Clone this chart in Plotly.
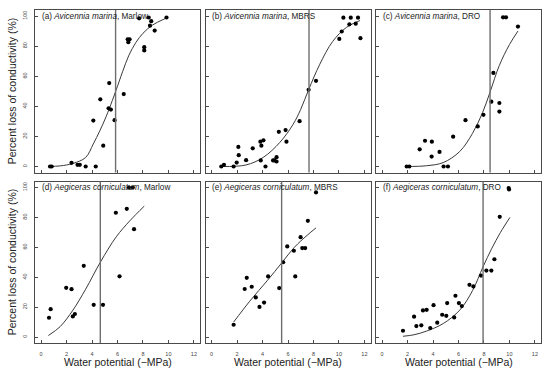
import plotly.graph_objects as go

# ---------------- data ----------------
panel_letters = ["(a)", "(b)", "(c)", "(d)", "(e)", "(f)"]
species = ["Avicennia marina", "Avicennia marina", "Avicennia marina",
           "Aegiceras corniculatum", "Aegiceras corniculatum", "Aegiceras corniculatum"]
sites = ["Marlow", "MBRS", "DRO", "Marlow", "MBRS", "DRO"]

x_ticks = [0, 2, 4, 6, 8, 10, 12]
y_ticks = [0, 20, 40, 60, 80, 100]

p50 = [5.85, 7.65, 8.48, 4.65, 5.5, 7.93]

a_x = [0.70, 0.83, 2.39, 2.86, 3.04, 3.50, 4.10, 4.29, 4.65, 4.88, 5.30, 5.48, 5.35, 5.77,
       6.49, 6.80, 6.95, 6.85, 7.70, 8.10, 8.10, 8.45, 8.55, 8.65, 8.92, 9.85]
a_y = [0, 0, 2.4, 1.1, 1.1, 0, 30.5, 0, 44.6, 13.8, 38.7, 37.8, 55.4, 30.8,
       48.1, 84.5, 84.5, 82.6, 98.5, 79.3, 77.1, 99, 93.6, 96.6, 90.3, 99]

b_x = [0.76, 0.97, 1.73, 1.97, 2.10, 2.13, 2.71, 3.23, 3.83, 3.91, 4.07, 3.86, 4.23, 4.83,
       4.94, 5.10, 5.10, 5.28, 5.81, 5.88, 6.91, 7.62, 8.20, 10.03, 10.22, 10.35, 10.82,
       10.93, 11.32, 11.50, 11.69]
b_y = [0, 1.1, 0, 2.6, 13, 7.5, 4.2, 12.1, 16.5, 13.8, 17.4, 4, 0, 4,
       4, 6.2, 3.3, 23, 24.2, 16.5, 30.1, 51, 56.9, 84.8, 89.7, 98.9, 94.5,
       98.9, 94.9, 98.9, 85.3]

c_x = [1.93, 2.14, 2.95, 3.37, 3.91, 3.89, 4.51, 4.83, 5.17, 5.58, 6.55, 7.51, 7.96, 8.58,
       8.74, 9.21, 9.21, 9.50, 9.73, 10.67]
c_y = [0, 0, 11.4, 17.1, 16.5, 6.6, 9.7, 0, 0, 19.8, 30.8, 26.6, 34.3, 43.1,
       62.2, 42.2, 36.5, 99.1, 99.1, 93]

d_x = [0.62, 0.75, 1.97, 2.39, 2.49, 2.65, 3.35, 4.13, 4.86, 5.87, 6.16, 6.73, 7.30, 6.90, 7.20]
d_y = [12.9, 18.6, 32.9, 32, 13.8, 15.4, 47.6, 21.5, 21.5, 83.1, 40.6, 85.7, 72.1, 100, 100]

e_x = [1.73, 2.60, 2.76, 3.15, 3.47, 3.76, 4.12, 4.44, 5.31, 5.62, 5.94, 6.46, 6.57, 6.99,
       7.12, 7.35, 7.56, 8.20]
e_y = [8.2, 32.1, 39.6, 33.6, 26.5, 20.1, 23, 40.5, 32.7, 50, 60.6, 57.7, 40.5, 66.8,
       59.5, 59.5, 77.7, 96.7]

f_x = [1.64, 2.51, 2.69, 3.08, 3.21, 3.50, 3.78, 4.04, 4.33, 4.72, 5.04, 5.11, 5.66, 5.76,
       6.03, 6.26, 6.86, 7.17, 7.77, 8.19, 8.58, 8.82, 9.24, 9.94, 9.97]
f_y = [4.2, 13.6, 7.3, 7.8, 17.8, 18.2, 6, 21.3, 9.6, 14.9, 14.2, 22.7, 13.1, 27.6,
       22.7, 20.7, 34.9, 33.8, 41.1, 44.4, 44.4, 52, 80.4, 99.6, 98.7]

# fitted vulnerability curves
a_fit_x = [0.6, 1.5, 2.5, 3.5, 4.1, 4.6, 5.1, 5.6, 5.9, 6.4, 6.9, 7.45, 8.0, 8.75, 9.8]
a_fit_y = [0, 0.4, 2, 6, 15, 23.5, 33, 44, 51, 63, 74, 82.5, 88.5, 94, 98.5]
b_fit_x = [0.8, 2.7, 4.05, 5.36, 6.4, 7.0, 7.62, 8.5, 9.5, 10.6, 11.66]
b_fit_y = [0, 1, 6, 16, 28, 38, 51, 68, 83, 92.5, 97]
c_fit_x = [1.9, 3.5, 4.8, 6.1, 7.1, 7.9, 8.5, 9.2, 10.0, 10.67]
c_fit_y = [0, 0.5, 2.6, 10, 22, 36, 50, 67, 81, 90]
d_fit_x = [0.57, 1.5, 2.5, 3.5, 4.65, 5.9, 7.0, 8.1]
d_fit_y = [1, 7, 18, 32, 50, 67, 78, 87.5]
e_fit_x = [1.73, 3.0, 4.4, 5.5, 6.5, 7.5, 8.2]
e_fit_y = [10, 24, 38, 49.5, 60, 68, 73]
f_fit_x = [1.64, 2.5, 3.5, 4.8, 6.1, 7.1, 7.93, 8.6, 9.3, 10.04]
f_fit_y = [0.5, 1.5, 4, 9, 18, 31, 47, 59, 70, 80]

points = [(a_x, a_y), (b_x, b_y), (c_x, c_y), (d_x, d_y), (e_x, e_y), (f_x, f_y)]
fits = [(a_fit_x, a_fit_y), (b_fit_x, b_fit_y), (c_fit_x, c_fit_y),
        (d_fit_x, d_fit_y), (e_fit_x, e_fit_y), (f_fit_x, f_fit_y)]

x_title = "Water potential (\u2212MPa)"
y_title = "Percent loss of conductivity (%)"

# ---------------- layout geometry (pixels) ----------------
W, H = 550, 372
col_px = [(35, 200), (205.5, 370.5), (376, 541)]
row_px = [(10, 172.5), (181.5, 343)]

FONT = "Liberation Sans, Arial, sans-serif"
frame_col = "#4a4a4a"

fig = go.Figure()
layout = dict(
    width=W, height=H,
    margin=dict(l=0, r=0, t=0, b=0),
    paper_bgcolor="white", plot_bgcolor="white",
    showlegend=False,
    font=dict(family=FONT, color="#222"),
)
shapes = []
annotations = []

for i in range(6):
    r, c = divmod(i, 3)
    n = "" if i == 0 else str(i + 1)
    xa, ya = "x" + n, "y" + n
    x0p, x1p = col_px[c]
    y0p, y1p = row_px[r]
    layout["xaxis" + n] = dict(
        domain=[x0p / W, x1p / W], range=[-0.48, 12.48], anchor=ya,
        tickvals=x_ticks, showticklabels=(r == 1),
        ticks="inside", ticklen=3, tickwidth=1, tickcolor=frame_col,
        tickfont=dict(size=5.5, color="#444"), ticklabelstandoff=5,
        showline=True, linecolor=frame_col, linewidth=1, mirror=True,
        showgrid=False, zeroline=False, fixedrange=True,
    )
    layout["yaxis" + n] = dict(
        domain=[1 - y1p / H, 1 - y0p / H], range=[-4, 104], anchor=xa,
        tickvals=y_ticks, showticklabels=(c == 0), tickangle=-90,
        ticks="inside", ticklen=3, tickwidth=1, tickcolor=frame_col,
        tickfont=dict(size=5.5, color="#444"), ticklabelstandoff=5,
        showline=True, linecolor=frame_col, linewidth=1, mirror=True,
        showgrid=False, zeroline=False, fixedrange=True,
    )
    # P50 vertical line
    shapes.append(dict(type="line", xref=xa, yref=ya + " domain",
                       x0=p50[i], x1=p50[i], y0=0, y1=1,
                       line=dict(color="#6e6e6e", width=1.4)))
    # fitted curve
    fx_, fy_ = fits[i]
    fig.add_trace(go.Scatter(x=fx_, y=fy_, xaxis=xa, yaxis=ya, mode="lines",
                             line=dict(color="#3a3a3a", width=1, shape="spline", smoothing=1),
                             hoverinfo="skip"))
    # data points
    px_, py_ = points[i]
    fig.add_trace(go.Scatter(x=px_, y=py_, xaxis=xa, yaxis=ya, mode="markers",
                             marker=dict(color="black", size=4.2)))
    # panel label
    annotations.append(dict(
        xref=xa + " domain", yref=ya, x=0.03, y=100, xanchor="left", yanchor="middle",
        text=f"{panel_letters[i]} <i>{species[i]}</i>, {sites[i]}",
        showarrow=False, font=dict(size=8.2, color="#222", family=FONT)))
    # x-axis title under bottom row
    if r == 1:
        annotations.append(dict(
            xref="paper", yref="paper", x=(x0p + x1p) / 2 / W, y=1 - 361.5 / H,
            xanchor="center", yanchor="middle", text=x_title, showarrow=False,
            font=dict(size=10.5, color="#222", family=FONT)))
    # y-axis title left of each row
    if c == 0:
        annotations.append(dict(
            xref="paper", yref="paper", x=12 / W, y=1 - (y0p + y1p) / 2 / H,
            xanchor="center", yanchor="middle", text=y_title, textangle=-90,
            showarrow=False, font=dict(size=10.5, color="#222", family=FONT)))

layout["shapes"] = shapes
layout["annotations"] = annotations
fig.update_layout(**layout)
fig.write_html("out.html",
               config={"displayModeBar": False},
               post_script="document.body.style.margin='0';document.body.style.padding='0';"
                           "document.documentElement.style.overflow='hidden';")
